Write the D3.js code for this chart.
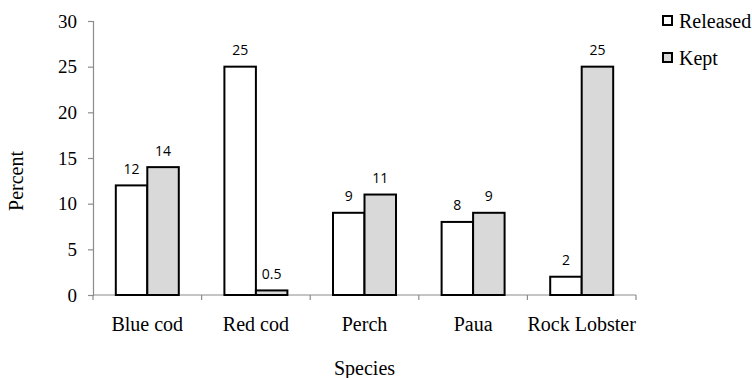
<!DOCTYPE html>
<html>
<head>
<meta charset="utf-8">
<script src="https://cdn.jsdelivr.net/npm/d3@7"></script>
<style>
  html, body { margin: 0; padding: 0; background: #fff; }
  svg { display: block; }
</style>
</head>
<body>
<div id="chart"></div>
<script>
// Catch outcomes by species (percent of respondents)
const species = ["Blue cod", "Red cod", "Perch", "Paua", "Rock Lobster"];
const seriesNames = ["Released", "Kept"];
const released = [12, 25, 9, 8, 2];
const kept = [14, 0.5, 11, 9, 25];
const yTicks = [0, 5, 10, 15, 20, 25, 30];
const seriesColors = ["#ffffff", "#d9d9d9"];

const W = 752, H = 378;
const margin = { left: 93, right: 116, top: 21, bottom: 83 };
const innerW = W - margin.left - margin.right;
const innerH = H - margin.top - margin.bottom;

const svg = d3.select("#chart").append("svg")
  .attr("width", W).attr("height", H);

const g = svg.append("g")
  .attr("transform", `translate(${margin.left},${margin.top})`);

const x = d3.scaleBand().domain(species).range([0, innerW])
  .paddingInner(0.42).paddingOuter(0.21);
const x1 = d3.scaleBand().domain(seriesNames).range([0, x.bandwidth()]).padding(0);
const y = d3.scaleLinear().domain([0, 30]).range([innerH, 0]);

const serif = "'Liberation Serif', 'Times New Roman', serif";
const sans = "'Open Sans', 'Liberation Sans', sans-serif";
const axisGrey = "#8c8c8c";

// Y axis
const yAxis = g.append("g")
  .call(d3.axisLeft(y).tickValues(yTicks).tickSize(5).tickPadding(11).tickFormat(d3.format("d")));
yAxis.select(".domain").attr("stroke", axisGrey).attr("stroke-width", 1.2);
yAxis.selectAll(".tick line").attr("stroke", axisGrey).attr("stroke-width", 1.2);
yAxis.selectAll(".tick text")
  .attr("font-family", serif).attr("font-size", 19).attr("fill", "#000");

// X axis: ticks at category boundaries
const boundaries = d3.range(species.length + 1).map(i => i * innerW / species.length);
const xAxisG = g.append("g").attr("transform", `translate(0,${innerH})`);
xAxisG.append("line")
  .attr("x1", 0).attr("x2", innerW)
  .attr("stroke", axisGrey).attr("stroke-width", 1.2);
xAxisG.selectAll("line.bt").data(boundaries).join("line")
  .attr("class", "bt")
  .attr("x1", d => d).attr("x2", d => d)
  .attr("y1", 0).attr("y2", 5)
  .attr("stroke", axisGrey).attr("stroke-width", 1.2);
xAxisG.selectAll("text").data(species).join("text")
  .attr("x", d => x(d) + x.bandwidth() / 2)
  .attr("y", 36)
  .attr("text-anchor", "middle")
  .attr("font-family", serif).attr("font-size", 20)
  .text(d => d);

// Bars
const rows = species.map((s, i) => ({
  species: s,
  values: [
    { key: "Released", value: released[i] },
    { key: "Kept", value: kept[i] }
  ]
}));

const groups = g.selectAll("g.grp").data(rows).join("g")
  .attr("class", "grp")
  .attr("transform", d => `translate(${x(d.species)},0)`);

groups.selectAll("rect").data(d => d.values).join("rect")
  .attr("x", d => x1(d.key))
  .attr("y", d => y(d.value))
  .attr("width", x1.bandwidth())
  .attr("height", d => innerH - y(d.value))
  .attr("fill", (d, i) => seriesColors[i])
  .attr("stroke", "#000")
  .attr("stroke-width", 2);

groups.selectAll("text").data(d => d.values).join("text")
  .attr("x", d => x1(d.key) + x1.bandwidth() / 2)
  .attr("y", d => y(d.value) - 11.5)
  .attr("text-anchor", "middle")
  .attr("font-family", sans).attr("font-size", 14)
  .text(d => d.value);

// Axis titles
svg.append("text")
  .attr("transform", "translate(23,181) rotate(-90)")
  .attr("text-anchor", "middle")
  .attr("font-family", serif).attr("font-size", 20)
  .text("Percent");

svg.append("text")
  .attr("x", margin.left + innerW / 2)
  .attr("y", 375)
  .attr("text-anchor", "middle")
  .attr("font-family", serif).attr("font-size", 20)
  .text("Species");

// Legend
const legend = svg.append("g").attr("transform", "translate(663,16)");
const li = legend.selectAll("g").data(seriesNames).join("g")
  .attr("transform", (d, i) => `translate(0,${i * 37})`);
li.append("rect")
  .attr("width", 9).attr("height", 9)
  .attr("fill", (d, i) => seriesColors[i])
  .attr("stroke", "#000").attr("stroke-width", 2);
li.append("text")
  .attr("x", 16).attr("y", 12)
  .attr("font-family", serif).attr("font-size", 20)
  .text(d => d);
</script>
</body>
</html>
